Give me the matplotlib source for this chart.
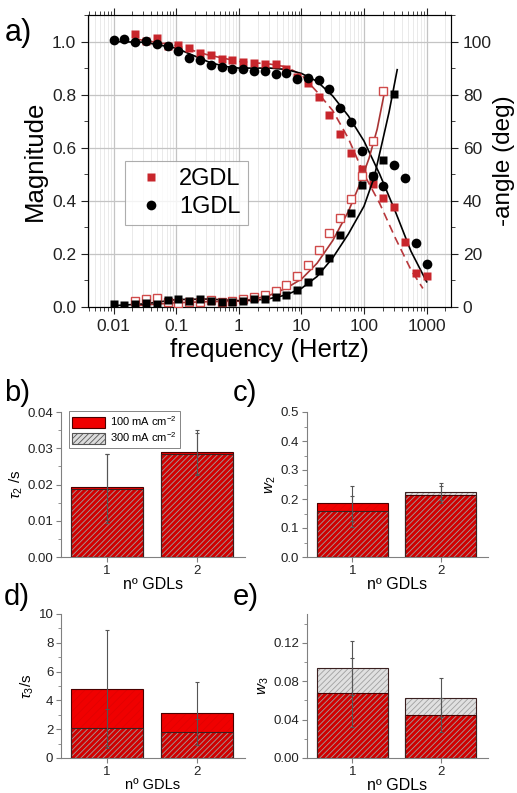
import matplotlib
matplotlib.use('Agg')
import matplotlib.pyplot as plt
from matplotlib.ticker import MultipleLocator, FixedLocator, FixedFormatter, NullFormatter
from matplotlib.patches import Patch
from matplotlib.lines import Line2D

plt.rcParams['font.family'] = ['Liberation Sans', 'DejaVu Sans']
plt.rcParams['hatch.linewidth'] = 0.6
plt.rcParams['mathtext.fontset'] = 'custom'
plt.rcParams['mathtext.rm'] = 'Liberation Sans'
plt.rcParams['mathtext.it'] = 'Liberation Sans:italic'

# ---------------- panel a data ----------------
freq = [0.01, 0.01487, 0.02212, 0.0329, 0.04893, 0.07279, 0.1083, 0.161, 0.2395, 0.3562,
        0.5298, 0.788, 1.172, 1.743, 2.593, 3.857, 5.736, 8.532, 12.69, 18.88,
        28.07, 41.76, 62.11, 92.36, 137.4, 204.3, 303.9, 452.0, 672.3, 1000]
mag_1gdl = [1.005, 1.011, 0.999, 1.003, 0.989, 0.982, 0.963, 0.938, 0.929, 0.913,
            0.904, 0.898, 0.898, 0.889, 0.889, 0.876, 0.881, 0.860, 0.862, 0.856,
            0.822, 0.750, 0.698, 0.588, 0.495, 0.455, 0.535, 0.486, 0.240, 0.163]
freq_2gdl = freq[2:]
mag_2gdl = [1.030, 1.003, 1.014, 0.982, 0.986, 0.976, 0.957, 0.948, 0.936, 0.929,
            0.923, 0.919, 0.917, 0.917, 0.898, 0.866, 0.845, 0.790, 0.723, 0.652,
            0.580, 0.519, 0.465, 0.410, 0.378, 0.245, 0.128, 0.115]
ang_freq_1gdl = freq[:27]
ang_1gdl = [1.1, 0.8, 1.0, 1.6, 1.1, 2.7, 3.0, 2.4, 2.9, 2.4, 2.0, 2.0, 2.3, 2.9, 2.9,
            3.7, 4.5, 6.4, 9.6, 13.4, 18.4, 27.3, 35.5, 46.0, 49.4, 55.3, 80.3]
ang_freq_2gdl = freq[2:26]
ang_2gdl = [2.4, 2.9, 3.5, 2.0, 1.4, 2.0, 2.0, 2.7, 2.0, 2.3, 2.9, 3.7, 4.5, 6.2,
            8.3, 11.7, 15.9, 21.3, 27.9, 33.6, 40.5, 49.4, 62.6, 81.5]

# fitted curves
fit_f_mag1 = [0.01, 0.0316, 0.1, 0.178, 0.316, 0.562, 1, 3.16, 5.62, 10, 17.8, 31.6,
              56.2, 100, 178, 316, 562, 1000]
fit_mag1 = [1.0, 0.997, 0.975, 0.95, 0.925, 0.907, 0.90, 0.90, 0.895, 0.88, 0.85, 0.795,
            0.72, 0.625, 0.50, 0.36, 0.21, 0.095]
fit_f_mag2 = [0.0219, 0.1, 0.316, 1, 3.16, 5.62, 10, 17.8, 31.6, 56.2, 100, 178, 316,
              562, 871]
fit_mag2 = [1.01, 0.985, 0.95, 0.925, 0.915, 0.905, 0.875, 0.81, 0.74, 0.635, 0.50,
            0.39, 0.26, 0.14, 0.07]
fit_f_ang1 = [0.01, 0.0316, 0.1, 0.316, 1, 1.78, 3.16, 5.62, 10, 17.8, 31.6, 56.2, 100,
              144.5, 195, 251, 338.8]
fit_ang1 = [0.5, 1.2, 2.8, 3.0, 2.4, 2.5, 3.2, 4.5, 7.0, 11.5, 18.5, 27.5, 38.0,
            48.7, 62.0, 73.4, 89.4]
fit_f_ang2 = [0.0219, 0.1, 0.316, 1, 1.78, 3.16, 5.62, 10, 17.8, 31.6, 56.2, 81.3,
              120.2, 162.2, 218.8]
fit_ang2 = [0.5, 1.6, 2.0, 2.2, 3.0, 4.5, 7.0, 10.5, 16.5, 25.0, 36.0, 45.0, 56.0,
            67.0, 82.5]

# ---------------- bar panels data ----------------
gdls = [1, 2]
tau2_100 = [0.0193, 0.0290]
tau2_300 = [0.0188, 0.0284]
tau2_err100 = [0.0092, 0.0060]
tau2_err300 = [0.0095, 0.0058]

w2_100 = [0.185, 0.215]
w2_300 = [0.157, 0.225]
w2_err100 = [0.060, 0.030]
w2_err300 = [0.055, 0.030]

tau3_100 = [4.8, 3.1]
tau3_300 = [2.1, 1.8]
tau3_err100 = [4.1, 2.2]
tau3_err300 = [1.3, 0.9]

w3_100 = [0.068, 0.045]
w3_300 = [0.094, 0.063]
w3_err100 = [0.036, 0.018]
w3_err300 = [0.028, 0.020]

RED_PT = '#c8262c'
W, H = 517, 793
fig = plt.figure(figsize=(W / 100, H / 100), dpi=100)


def box(l, t, r, b):
    return [l / W, 1 - b / H, (r - l) / W, (b - t) / H]


# ================= panel a =================
ax = fig.add_axes(box(88, 15, 451, 307))
ax.set_xscale('log')
ax.set_xlim(0.0039, 2450)
ax.set_ylim(0, 1.1)
ax.grid(which='major', color='#c4c4c4', lw=0.9)
ax.grid(which='minor', axis='x', color='#e6e6e6', lw=0.6)
ax.set_axisbelow(True)

ax.plot(fit_f_mag2, fit_mag2, ls=(0, (5, 3)), color='#b8383c', lw=1.2, zorder=2)
ax.plot(fit_f_mag1, fit_mag1, color='black', lw=1.2, zorder=2)
ax.plot(freq_2gdl, mag_2gdl, 's', color=RED_PT, ms=6.2, mec='none', zorder=3)
ax.plot(freq, mag_1gdl, 'o', color='black', ms=7, mec='none', zorder=4)

ax.yaxis.set_major_locator(MultipleLocator(0.2))
ax.yaxis.set_minor_locator(MultipleLocator(0.1))
ax.yaxis.set_major_formatter(matplotlib.ticker.FormatStrFormatter('%.1f'))
ax.xaxis.set_major_locator(FixedLocator([0.01, 0.1, 1, 10, 100, 1000]))
ax.xaxis.set_major_formatter(FixedFormatter(['0.01', '0.1', '1', '10', '100', '1000']))
ax.xaxis.set_minor_formatter(NullFormatter())
ax.tick_params(which='both', direction='out', labelsize=12.5, colors='#222',
               top=True)
ax.tick_params(which='major', length=5)
ax.tick_params(which='minor', length=3)
for s in ax.spines.values():
    s.set_color('#333')
ax.set_ylabel('Magnitude', fontsize=18.5, labelpad=4)
ax.set_xlabel('frequency (Hertz)', fontsize=18.5, labelpad=3)

ax2 = ax.twinx()
ax2.set_ylim(0, 110)
ax2.plot(fit_f_ang2, fit_ang2, color='#a83434', lw=1.2, zorder=2)
ax2.plot(fit_f_ang1, fit_ang1, color='black', lw=1.2, zorder=2)
ax2.plot(ang_freq_2gdl, ang_2gdl, 's', mfc='white', mec='#d04a4a', mew=1.0, ms=6,
         zorder=3)
ax2.plot(ang_freq_1gdl, ang_1gdl, 's', color='black', ms=6.2, mec='none', zorder=4)
ax2.yaxis.set_major_locator(MultipleLocator(20))
ax2.yaxis.set_minor_locator(MultipleLocator(10))
ax2.tick_params(which='both', direction='out', labelsize=12.5, colors='#222')
ax2.tick_params(which='major', length=5)
ax2.tick_params(which='minor', length=3)
ax2.set_ylabel('-angle (deg)', fontsize=17.5, labelpad=1)

handles = [Line2D([], [], marker='s', color=RED_PT, ls='none', ms=6.2, mec='none'),
           Line2D([], [], marker='o', color='black', ls='none', ms=7, mec='none')]
leg = ax.legend(handles, ['2GDL', '1GDL'], loc='upper left',
                bbox_to_anchor=(0.069, 0.54), fontsize=17, frameon=True,
                fancybox=False, edgecolor='#999', handletextpad=0.4,
                borderpad=0.3, labelspacing=0.25, handlelength=1.6)
leg.get_frame().set_linewidth(0.8)
leg.set_zorder(10)

fig.text(5 / W, 1 - 33 / H, 'a)', fontsize=22, va='center', ha='left')


# ================= bar panels =================
def bar_panel(rect, v100, v300, e100, e300, ylim, major, minor, fmt, ylabel,
              xlab_size, legend=False):
    bx = fig.add_axes(rect)
    wd = 0.8
    bx.bar(gdls, v100, width=wd, color='#f00000', hatch='////', edgecolor='#e20000',
           lw=0, zorder=2)
    bx.bar(gdls, v300, width=wd, color=(0, 0, 0, 0.12), zorder=3, lw=0)
    bx.bar(gdls, v300, width=wd, color='none', hatch='//////', edgecolor='#a0a0a0',
           lw=0, zorder=3)
    bx.bar(gdls, v100, width=wd, color='none', edgecolor='#4a0000', lw=0.8, zorder=4)
    bx.bar(gdls, v300, width=wd, color='none', edgecolor='#3a2020', lw=0.8, zorder=4)
    bx.errorbar(gdls, v100, yerr=e100, fmt='none', ecolor='#555', elinewidth=0.8,
                capsize=1.5, capthick=0.8, zorder=5)
    bx.errorbar(gdls, v300, yerr=e300, fmt='none', ecolor='#555', elinewidth=0.8,
                capsize=1.5, capthick=0.8, zorder=5)
    bx.set_xlim(0.49, 2.53)
    bx.set_ylim(*ylim)
    bx.set_xticks(gdls)
    bx.yaxis.set_major_locator(MultipleLocator(major))
    bx.yaxis.set_minor_locator(MultipleLocator(minor))
    bx.yaxis.set_major_formatter(matplotlib.ticker.FormatStrFormatter(fmt))
    for s in ['top', 'right']:
        bx.spines[s].set_visible(False)
    for s in ['left', 'bottom']:
        bx.spines[s].set_color('#808080')
    bx.tick_params(which='both', direction='out', colors='#808080', labelcolor='#222',
                   labelsize=9.5, pad=2)
    bx.tick_params(which='major', length=3.5)
    bx.tick_params(which='minor', length=2)
    bx.set_xlabel('nº GDLs', fontsize=xlab_size, labelpad=0)
    bx.set_ylabel(ylabel, fontsize=11, labelpad=2)
    if legend:
        h = [Patch(facecolor='#f00000', edgecolor='#4a0000', lw=0.8),
             Patch(facecolor='#dcdcdc', edgecolor='#555', hatch='//////', lw=0.8)]
        lg = bx.legend(h, ['100 mA cm$^{-2}$', '300 mA cm$^{-2}$'], loc='upper left',
                       bbox_to_anchor=(0.03, 1.02), fontsize=8, frameon=True,
                       fancybox=False, edgecolor='#666', borderpad=0.3,
                       labelspacing=0.2, handlelength=3.0, handleheight=1.1,
                       handletextpad=0.4, borderaxespad=0.2)
        lg.get_frame().set_linewidth(0.7)
        lg.set_zorder(10)
    return bx


bar_panel(box(61, 412, 245, 557), tau2_100, tau2_300, tau2_err100, tau2_err300,
          (0, 0.04), 0.01, 0.005, '%.2f', r'$\tau_2$ /s', 11.5, legend=True)
bar_panel(box(307, 412, 488, 557), w2_100, w2_300, w2_err100, w2_err300,
          (0, 0.5), 0.1, 0.05, '%.1f', r'$w_2$', 11.5)
bar_panel(box(61, 614, 245, 758), tau3_100, tau3_300, tau3_err100, tau3_err300,
          (0, 10), 2, 1, '%d', r'$\tau_3$/s', 10.5)
bar_panel(box(307, 614, 488, 758), w3_100, w3_300, w3_err100, w3_err300,
          (0, 0.15), 0.04, 0.02, '%.2f', r'$w_3$', 11.5)

fig.text(4 / W, 1 - 393 / H, 'b)', fontsize=21, va='center', ha='left')
fig.text(233 / W, 1 - 393 / H, 'c)', fontsize=21, va='center', ha='left')
fig.text(4 / W, 1 - 597 / H, 'd)', fontsize=21, va='center', ha='left')
fig.text(233 / W, 1 - 597 / H, 'e)', fontsize=21, va='center', ha='left')

fig.savefig('out.png', dpi=100)
